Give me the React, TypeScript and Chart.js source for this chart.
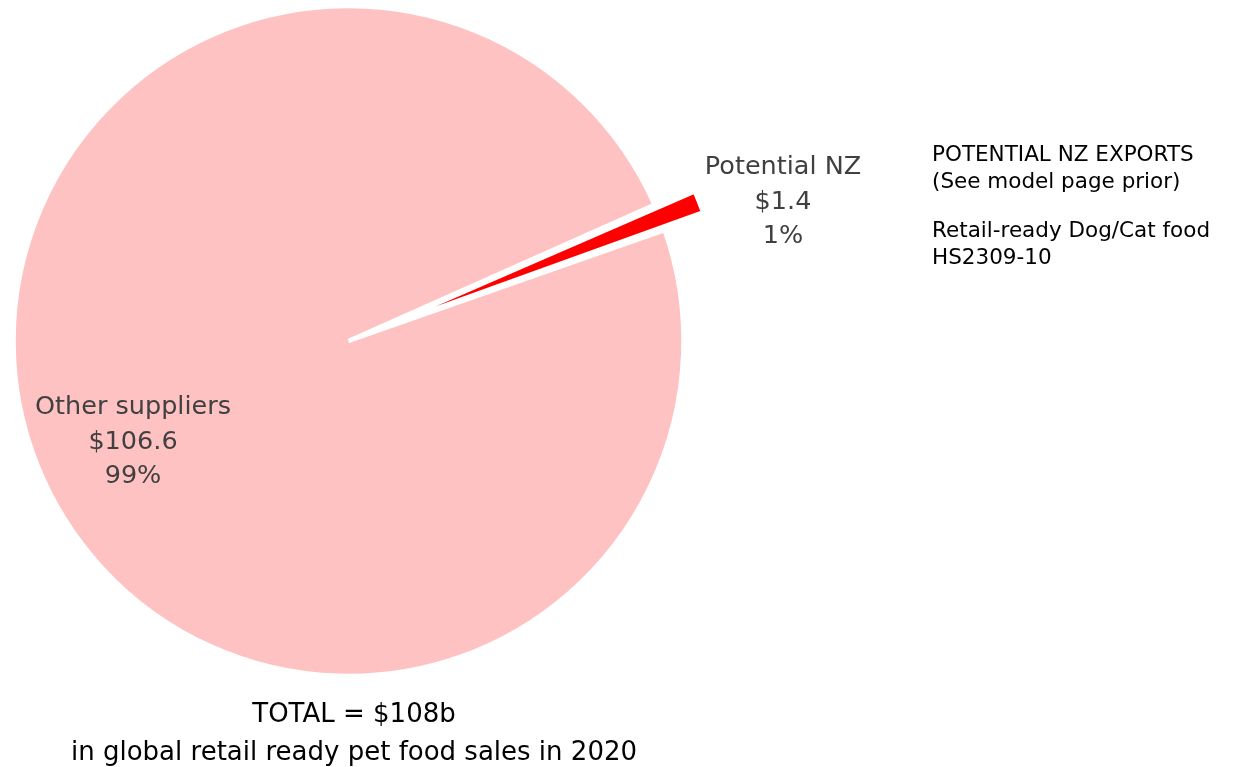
import React, { useEffect, useRef } from "react";
import { Chart, registerables } from "chart.js";
Chart.register(...registerables);

const categories = ["Potential NZ", "Other suppliers"];
const values = [1.4, 106.6];
const valueLabels = ["$1.4", "$106.6"];
const percentLabels = ["1%", "99%"];
const colors = ["#FF0000", "#FFC2C2"];
const totalLabel = "TOTAL = $108b";
const subtitleLabel = "in global retail ready pet food sales in 2020";
const noteLines = ["POTENTIAL NZ EXPORTS", "(See model page prior)", "", "Retail-ready Dog/Cat food", "HS2309-10"];

const FONT = "'DejaVu Sans', sans-serif";

export default function App() {
  const ref = useRef<HTMLCanvasElement | null>(null);
  useEffect(() => {
    if (!ref.current) return;
    const chart = new Chart(ref.current, {
      type: "pie",
      data: {
        labels: categories,
        datasets: [
          {
            data: values,
            backgroundColor: colors,
            borderColor: "#ffffff",
            borderWidth: 4.5,
            offset: [88, 0],
          },
        ],
      },
      options: {
        responsive: false,
        animation: false,
        rotation: 66,
        radius: 335,
        layout: { padding: { left: 0, top: 0, right: 549, bottom: 85 } },
        plugins: { legend: { display: false }, tooltip: { enabled: false } },
      } as any,
    });
    return () => chart.destroy();
  }, []);

  const sliceLabel = (i: number, cx: number, top: number) => (
    <div
      style={{
        position: "absolute",
        left: cx,
        top,
        transform: "translateX(-50%)",
        textAlign: "center",
        whiteSpace: "nowrap",
        fontFamily: FONT,
        fontSize: 25.5,
        lineHeight: "34.5px",
        color: "#404040",
      }}
    >
      <div>{categories[i]}</div>
      <div>{valueLabels[i]}</div>
      <div>{percentLabels[i]}</div>
    </div>
  );

  return (
    <div style={{ position: "fixed", left: 0, top: 0, width: 1246, height: 767, background: "#fff" }}>
      <canvas ref={ref} width={1246} height={767} style={{ position: "absolute", left: 0, top: 0 }} />
      {sliceLabel(0, 783, 148)}
      {sliceLabel(1, 133, 388)}
      <div
        style={{
          position: "absolute",
          left: 932,
          top: 139.5,
          fontFamily: FONT,
          fontSize: 21.5,
          lineHeight: "27px",
          color: "#000",
          whiteSpace: "nowrap",
        }}
      >
        {noteLines.map((l, i) => (
          <div key={i} style={{ height: i === 2 ? 22 : 27 }}>{l}</div>
        ))}
      </div>
      <div
        style={{
          position: "absolute",
          left: 354,
          top: 694,
          transform: "translateX(-50%)",
          textAlign: "center",
          whiteSpace: "nowrap",
          fontFamily: FONT,
          fontSize: 26,
          lineHeight: "38px",
          color: "#000",
        }}
      >
        <div>{totalLabel}</div>
        <div>{subtitleLabel}</div>
      </div>
    </div>
  );
}
